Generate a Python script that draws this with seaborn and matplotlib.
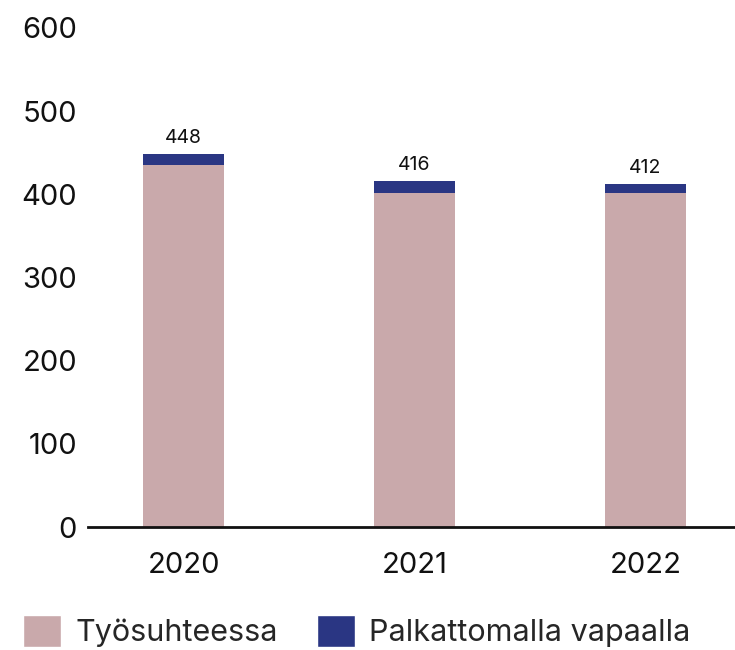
import pandas as pd
import seaborn as sns
import matplotlib.pyplot as plt
from matplotlib.patches import Patch

years = ['2020', '2021', '2022']
tyosuhteessa = [435, 402, 402]
palkattomalla = [13, 14, 10]
totals = [448, 416, 412]

PINK = '#C9A9AB'
BLUE = '#2A3683'

sns.set_theme(style='white')
plt.rcParams['font.family'] = ['Inter', 'DejaVu Sans']

df = pd.DataFrame({'year': years, 'tyo': tyosuhteessa, 'palk': palkattomalla})
df['total'] = df['tyo'] + df['palk']

fig = plt.figure(figsize=(7.35, 6.5), dpi=100)
ax = fig.add_axes([0.12, 0.189, 0.88, 0.768])

# stacked: full total in blue, then the pink part on top of it
sns.barplot(data=df, x='year', y='total', color=BLUE, width=0.35, ax=ax,
            saturation=1, linewidth=0)
sns.barplot(data=df, x='year', y='tyo', color=PINK, width=0.35, ax=ax,
            saturation=1, linewidth=0)

for i, t in enumerate(totals):
    ax.text(i, df['total'][i] + 9, str(t), ha='center', va='bottom',
            fontsize=14, color='#111111')

ax.set_ylim(0, 600)
ax.set_xlim(-0.413, 2.388)
ax.set_yticks(range(0, 601, 100))
ax.set_xlabel('')
ax.set_ylabel('')
for s in ['top', 'right', 'left']:
    ax.spines[s].set_visible(False)
ax.spines['bottom'].set_color('#111111')
ax.spines['bottom'].set_linewidth(2)
ax.tick_params(axis='y', length=0, labelsize=21, pad=8, colors='#111111')
ax.tick_params(axis='x', length=0, labelsize=21, pad=18, colors='#111111')

handles = [Patch(facecolor=PINK, label='Työsuhteessa'),
           Patch(facecolor=BLUE, label='Palkattomalla vapaalla')]
fig.legend(handles=handles, loc='lower left', bbox_to_anchor=(-0.006, -0.038), ncol=2,
           frameon=False, fontsize=22, handlelength=1.25, handleheight=1.25,
           handletextpad=0.45, columnspacing=1.3)

fig.savefig('out.png', dpi=100)
